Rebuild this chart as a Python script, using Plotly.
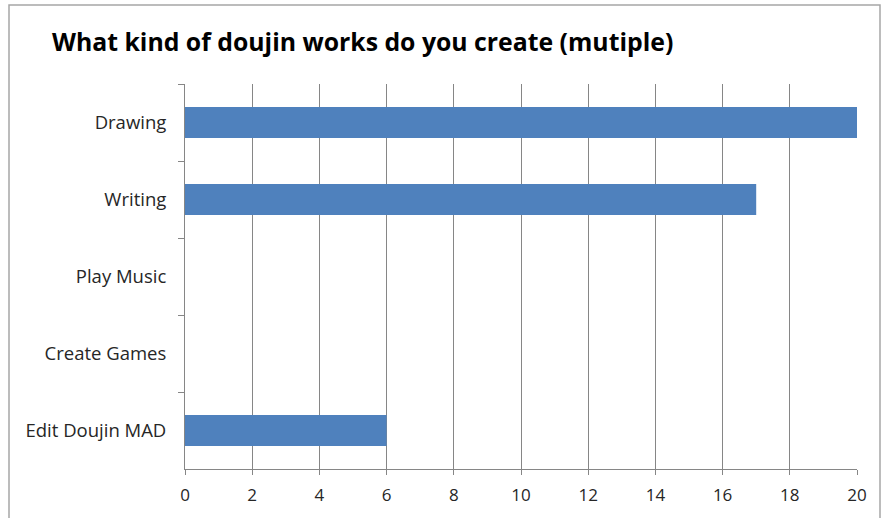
import plotly.graph_objects as go

categories = ["Drawing", "Writing", "Play Music", "Create Games", "Edit Doujin MAD"]
counts = [20, 17, 0, 0, 6]
x_ticks = [0, 2, 4, 6, 8, 10, 12, 14, 16, 18, 20]
title = "What kind of doujin works do you create (mutiple)"

fig = go.Figure(go.Bar(
    x=counts, y=categories, orientation="h",
    marker=dict(color="#4F81BD", line=dict(width=0)),
    width=0.4,
))

W, H = 881, 518
L, R, T, B = 185, 24, 84, 49
pw, ph = W - L - R, H - T - B

fig.update_layout(
    width=W, height=H,
    margin=dict(l=L, r=R, t=T, b=B, pad=0),
    paper_bgcolor="white", plot_bgcolor="white",
    showlegend=False,
    font=dict(family="Open Sans, sans-serif", size=17, color="#262626"),
    title=dict(text="<b>" + title + "</b>", x=52 / W, xanchor="left",
               y=1 - 42 / H, yanchor="middle",
               font=dict(size=24.8, color="black", family="Open Sans, sans-serif")),
    xaxis=dict(range=[0, 20], tickvals=x_ticks, showgrid=True, gridcolor="#868686",
               gridwidth=1, showline=True, linecolor="#868686", ticks="outside",
               ticklen=5, tickcolor="#868686", zeroline=False, fixedrange=True,
               ticklabelstandoff=6),
    yaxis=dict(categoryorder="array", categoryarray=categories, autorange="reversed",
               showline=True, linecolor="#868686", ticks="outside", ticklen=6,
               tickcolor="#868686", tickson="boundaries", showgrid=False,
               ticklabelstandoff=14, fixedrange=True, tickfont=dict(size=18.5)),
    shapes=[dict(type="rect", xref="paper", yref="paper",
                 x0=(9 - L) / pw, x1=(880 - L) / pw,
                 y0=-0.3, y1=1 + (T - 5) / ph,
                 line=dict(color="#a6a6a6", width=1.5), layer="below")],
)

fig.write_html("out.html", config={"displayModeBar": False},
               post_script="document.body.style.margin='0';document.body.style.padding='0';")
